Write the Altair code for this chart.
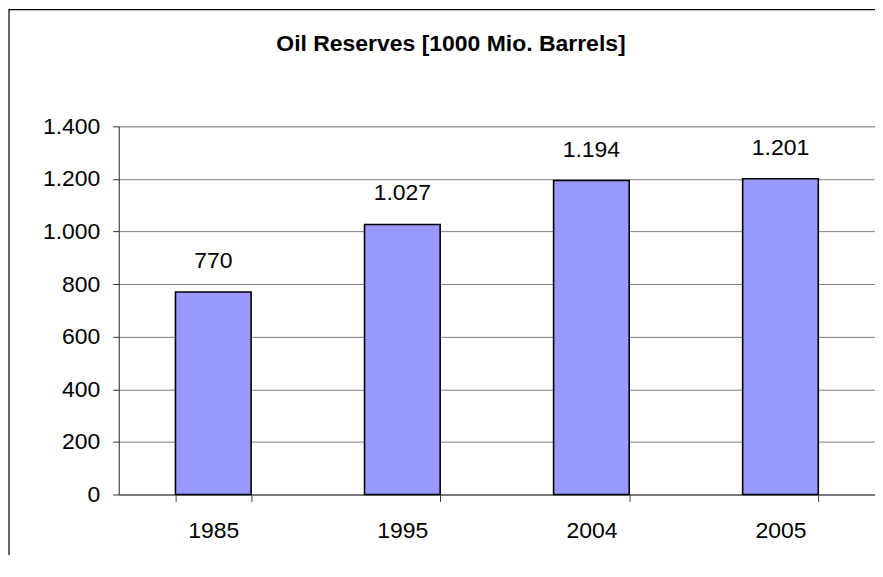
import altair as alt
import pandas as pd

years = ["1985", "1995", "2004", "2005"]
reserves = [770, 1027, 1194, 1201]
y_ticks = [0, 200, 400, 600, 800, 1000, 1200, 1400]

df = pd.DataFrame({"year": years, "value": reserves})
df["label"] = [f"{v:,}".replace(",", ".") for v in reserves]

FONT = "Liberation Sans"
FS = 23

x_enc = alt.X(
    "year:N",
    sort=years,
    title=None,
    scale=alt.Scale(paddingInner=0.6, paddingOuter=0.3),
    axis=alt.Axis(
        labelAngle=0,
        tickBand="extent",
        tickSize=7,
        tickColor="#404040",
        domainColor="#404040",
        labelFont=FONT,
        labelFontSize=FS,
        labelColor="black",
        labelPadding=18,
        labelBaseline="top",
        grid=False,
    ),
)
y_enc = alt.Y(
    "value:Q",
    title=None,
    scale=alt.Scale(domain=[0, 1400], nice=False),
    axis=alt.Axis(
        values=y_ticks,
        tickSize=6,
        tickColor="#303030",
        domainColor="#303030",
        gridColor="#808080",
        gridWidth=1,
        labelFont=FONT,
        labelFontSize=FS,
        labelColor="black",
        labelPadding=13,
        labelExpr="replace(format(datum.value, ','), ',', '.')",
    ),
)

bars = alt.Chart(df).mark_bar(
    color="#9999FF", stroke="black", strokeWidth=1.6
).encode(x=x_enc, y=y_enc)

texts = alt.Chart(df).mark_text(
    font=FONT, fontSize=FS, color="black", baseline="alphabetic", dy=-24
).encode(x=alt.X("year:N", sort=years), y="value:Q", text="label:N")

frame = alt.Chart(pd.DataFrame({"f": [0]})).mark_rect(
    fill=None, stroke="black", strokeWidth=1.2
).encode(
    x=alt.value(-110), x2=alt.value(820), y=alt.value(-117), y2=alt.value(520)
)

chart = alt.layer(bars, texts, frame).properties(
    width=758,
    height=369,
    title=alt.Title(
        "Oil Reserves [1000 Mio. Barrels]",
        font=FONT,
        fontSize=23,
        fontWeight="bold",
        color="black",
        anchor="middle",
        baseline="alphabetic",
        dx=-46,
        offset=-65,
    ),
    autosize=alt.AutoSizeParams(type="none"),
    padding={"left": 111, "top": 118, "right": 0, "bottom": 60},
).configure_view(stroke="#808080", strokeWidth=1).configure(background="white")

chart.save("out.html", embed_options={"renderer": "svg", "actions": False})
